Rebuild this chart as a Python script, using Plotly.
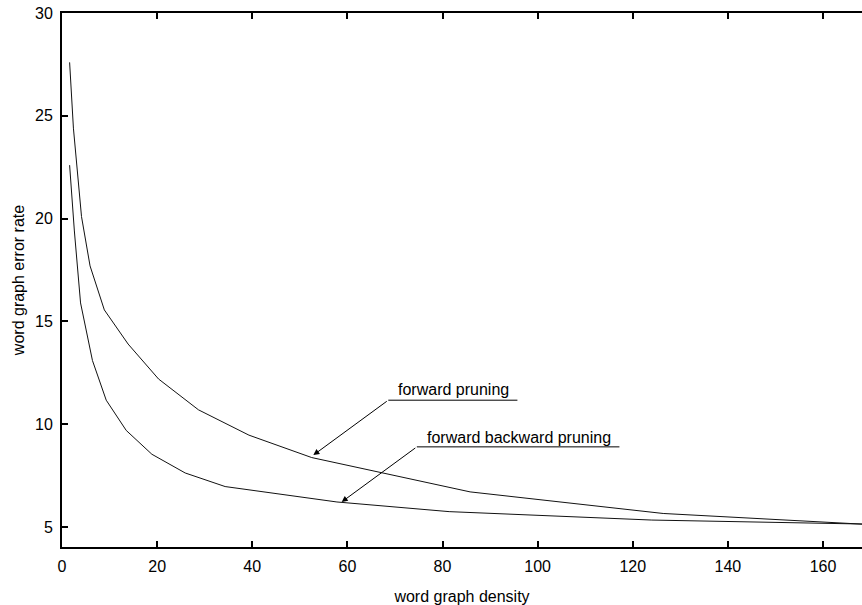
import plotly.graph_objects as go

# forward pruning
fp_x = [1.6, 2.4, 4.1, 5.9, 8.9, 13.9, 20.3, 28.7, 39.3, 52.5, 85.8, 126.4, 170.0]
fp_y = [27.6, 24.4, 20.1, 17.7, 15.56, 13.9, 12.2, 10.7, 9.47, 8.38, 6.71, 5.66, 5.12]

# forward backward pruning
fbp_x = [1.6, 2.6, 3.9, 5.0, 6.4, 9.3, 13.5, 18.9, 25.9, 34.3, 57.8, 81.4, 124.0, 170.0]
fbp_y = [22.6, 19.4, 15.9, 14.6, 13.1, 11.17, 9.7, 8.54, 7.63, 6.97, 6.22, 5.75, 5.34, 5.14]

x_ticks = [0, 20, 40, 60, 80, 100, 120, 140, 160]
y_ticks = [5, 10, 15, 20, 25, 30]

FONT = "Liberation Sans, Arial, Helvetica, sans-serif"

fig = go.Figure()
fig.add_trace(go.Scatter(x=fp_x, y=fp_y, mode="lines", line=dict(color="#111", width=1),
                         name="forward pruning", showlegend=False))
fig.add_trace(go.Scatter(x=fbp_x, y=fbp_y, mode="lines", line=dict(color="#111", width=1),
                         name="forward backward pruning", showlegend=False))

# label annotations: text, underline, arrow
labels = [
    dict(text="forward pruning", tx=82.4, ty=11.69, ux0=68.6, ux1=95.75, uy=11.17, ax=52.85, ay=8.50),
    dict(text="forward backward pruning", tx=96.0, ty=9.37, ux0=74.6, ux1=117.2, uy=8.90, ax=58.8, ay=6.22),
]
for lb in labels:
    fig.add_annotation(x=lb["tx"], y=lb["ty"], text=lb["text"], showarrow=False,
                       font=dict(family=FONT, size=16, color="#000"))
    fig.add_shape(type="line", x0=lb["ux0"], x1=lb["ux1"], y0=lb["uy"], y1=lb["uy"],
                  line=dict(color="#000", width=1))
    fig.add_annotation(x=lb["ax"], y=lb["ay"], ax=lb["ux0"], ay=lb["uy"], axref="x", ayref="y",
                       xref="x", yref="y", text="", showarrow=True, arrowhead=2,
                       arrowsize=1.2, arrowwidth=1, arrowcolor="#000")

fig.update_layout(
    width=862, height=605,
    margin=dict(l=62, r=0, t=13, b=58),
    paper_bgcolor="white", plot_bgcolor="white",
    font=dict(family=FONT, size=16, color="#000"),
    showlegend=False,
)
fig.update_xaxes(range=[0, 168.2], tickvals=x_ticks, ticks="inside", ticklen=6, tickwidth=1.5,
                 tickcolor="#000", showline=True, linecolor="#000", linewidth=2, mirror="ticks",
                 showgrid=False, zeroline=False, ticklabelstandoff=4,
                 title=dict(text="word graph density", font=dict(size=16), standoff=17))
fig.update_yaxes(range=[4.03, 30], tickvals=y_ticks, ticks="inside", ticklen=6, tickwidth=1.5,
                 tickcolor="#000", showline=True, linecolor="#000", linewidth=2, mirror=False,
                 showgrid=False, zeroline=False, ticklabelstandoff=4,
                 title=dict(text="word graph error rate", font=dict(size=16), standoff=6))

fig.write_html("out.html", config={"displayModeBar": False},
               post_script="document.body.style.margin='0';document.body.style.overflow='hidden';")
